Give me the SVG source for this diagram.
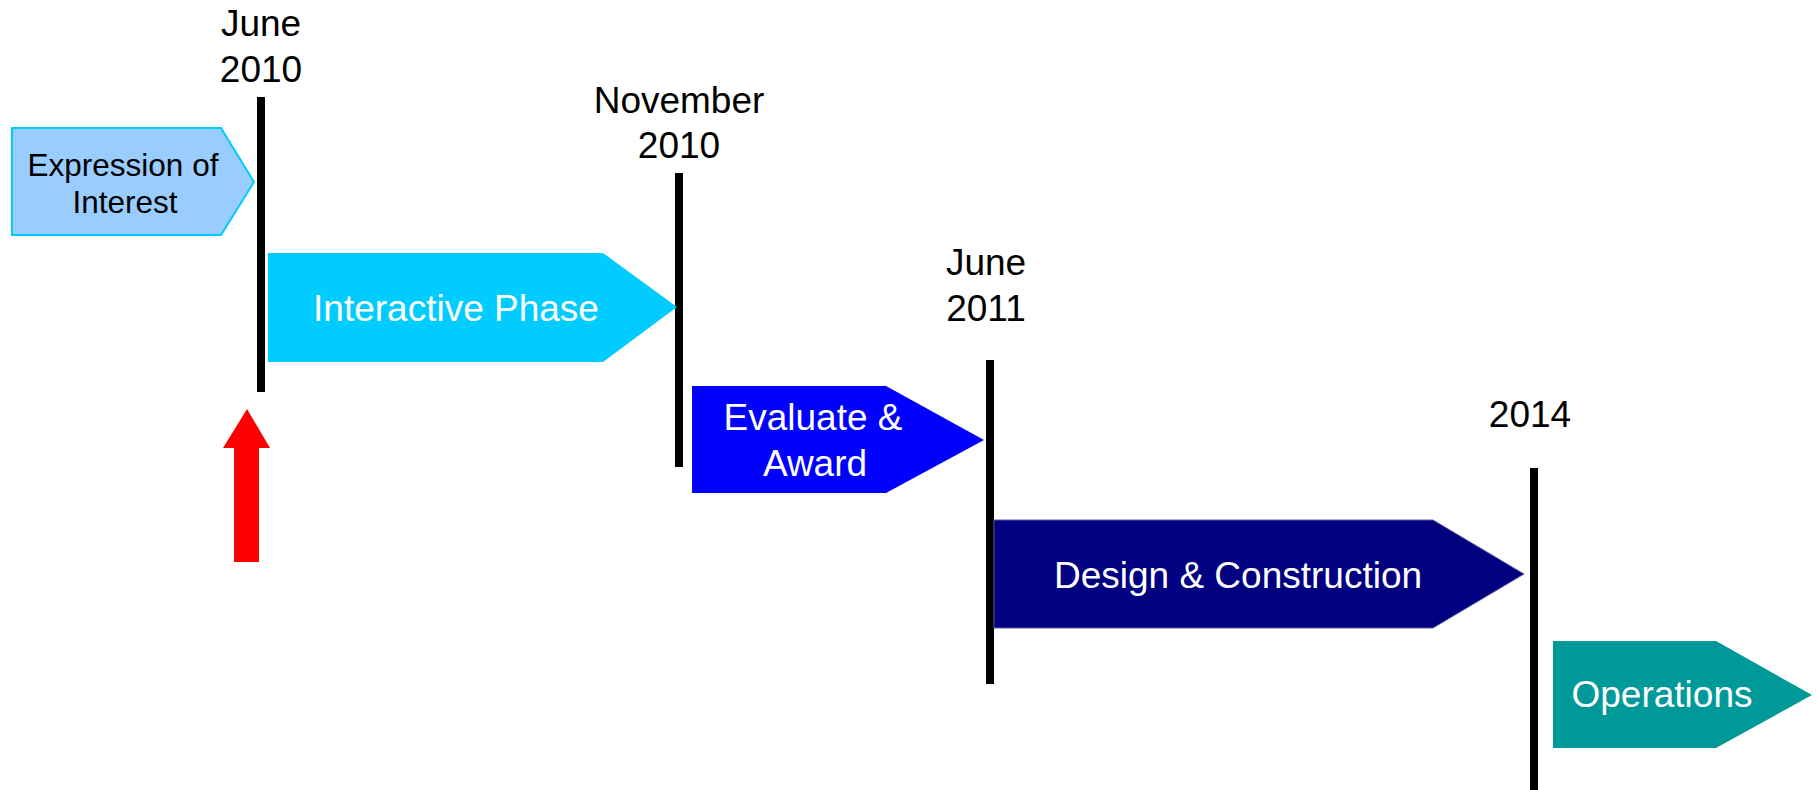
<svg xmlns="http://www.w3.org/2000/svg" width="1816" height="790" viewBox="0 0 1816 790">
<style>
text{font-family:"Liberation Sans",Arial,sans-serif;text-anchor:middle}
.lbl{font-size:37px;fill:#000}
.wt{font-size:37px;fill:#fff}
.eoi{font-size:31.5px;fill:#000}
.ms{stroke:#000;stroke-width:8}
</style>
<rect width="1816" height="790" fill="#fff"/>
<g id="connectors">
<line class="ms" x1="261" y1="97" x2="261" y2="392"/>
<line class="ms" x1="679" y1="173" x2="679" y2="467"/>
<line class="ms" x1="990" y1="360" x2="990" y2="684"/>
<line class="ms" x1="1534" y1="468" x2="1534" y2="790"/>
<polygon points="247,409 270,448 259,448 259,562 234,562 234,448 223,448" fill="#ff0000"/>
</g>
<g id="m-june2010"><text class="lbl" x="261" y="36">June</text><text class="lbl" x="261" y="82">2010</text></g>
<g id="m-nov2010"><text class="lbl" x="679" y="113">November</text><text class="lbl" x="679" y="158">2010</text></g>
<g id="m-june2011"><text class="lbl" x="986" y="275">June</text><text class="lbl" x="986" y="321">2011</text></g>
<g id="m-2014"><text class="lbl" x="1530" y="427">2014</text></g>
<g id="eoi">
<polygon points="12,128 221,128 254,182 221,235 12,235" fill="#99ccff" stroke="#00ccff" stroke-width="2"/>
<text class="eoi" x="123" y="176">Expression of</text><text class="eoi" x="125" y="213">Interest</text>
</g>
<g id="interactive">
<polygon points="268,253 603,253 677,307 603,362 268,362" fill="#00ccff"/>
<text class="wt" x="456" y="321">Interactive Phase</text>
</g>
<g id="evaluate">
<polygon points="692,386 886,386 984,440 886,493 692,493" fill="#0000ff"/>
<text class="wt" x="813" y="430">Evaluate &amp;</text><text class="wt" x="815" y="476">Award</text>
</g>
<g id="design">
<polygon points="994,520 1433,520 1524,574 1433,628 994,628" fill="#000080" stroke="#5a5aa8" stroke-width="1"/>
<text class="wt" x="1238" y="588">Design &amp; Construction</text>
</g>
<g id="operations">
<polygon points="1553,641 1716,641 1812,695 1716,748 1553,748" fill="#009999"/>
<text class="wt" x="1662" y="707">Operations</text>
</g>
</svg>
